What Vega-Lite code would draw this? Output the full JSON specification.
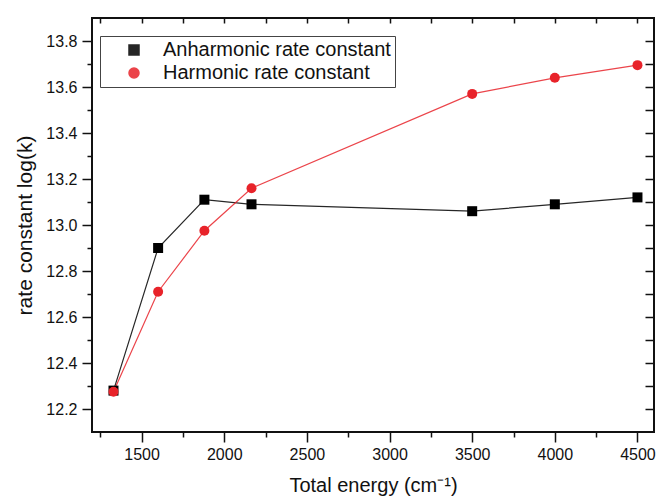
{
  "$schema": "https://vega.github.io/schema/vega-lite/v6.json",
  "width": 562,
  "height": 414,
  "autosize": "none",
  "padding": {"left": 92, "top": 18, "right": 3, "bottom": 68},
  "background": "white",
  "config": {
    "font": "Liberation Sans",
    "view": {"stroke": "#111", "strokeWidth": 2},
    "axis": {"domain": false, "grid": false, "tickColor": "#111", "tickWidth": 1.5, "labelColor": "#111", "titleColor": "#111", "titleFontWeight": "normal"}
  },
  "data": {
    "values": [
      {"energy": 1330, "logk": 12.28, "series": "Anharmonic rate constant"},
      {"energy": 1600, "logk": 12.90, "series": "Anharmonic rate constant"},
      {"energy": 1880, "logk": 13.11, "series": "Anharmonic rate constant"},
      {"energy": 2165, "logk": 13.09, "series": "Anharmonic rate constant"},
      {"energy": 3500, "logk": 13.06, "series": "Anharmonic rate constant"},
      {"energy": 4000, "logk": 13.09, "series": "Anharmonic rate constant"},
      {"energy": 4500, "logk": 13.12, "series": "Anharmonic rate constant"},
      {"energy": 1330, "logk": 12.275, "series": "Harmonic rate constant"},
      {"energy": 1600, "logk": 12.71, "series": "Harmonic rate constant"},
      {"energy": 1880, "logk": 12.975, "series": "Harmonic rate constant"},
      {"energy": 2165, "logk": 13.16, "series": "Harmonic rate constant"},
      {"energy": 3500, "logk": 13.57, "series": "Harmonic rate constant"},
      {"energy": 4000, "logk": 13.64, "series": "Harmonic rate constant"},
      {"energy": 4500, "logk": 13.695, "series": "Harmonic rate constant"}
    ]
  },
  "resolve": {"axis": {"x": "independent", "y": "independent"}},
  "layer": [
    {
      "mark": {"type": "line", "strokeWidth": 1.2, "opacity": 0.85},
      "encoding": {
        "x": {"field": "energy", "type": "quantitative", "scale": {"domain": [1200, 4600], "nice": false, "zero": false},
          "axis": {"orient": "top", "values": [1250,1500,1750,2000,2250,2500,2750,3000,3250,3500,3750,4000,4250,4500], "labels": false, "tickSize": -5, "title": null}},
        "y": {"field": "logk", "type": "quantitative", "scale": {"domain": [12.1, 13.9], "nice": false, "zero": false},
          "axis": {"orient": "right", "values": [12.2,12.3,12.4,12.5,12.6,12.7,12.8,12.9,13.0,13.1,13.2,13.3,13.4,13.5,13.6,13.7,13.8], "labels": false, "tickSize": -9, "title": null}},
        "color": {"field": "series", "type": "nominal", "scale": {"domain": ["Anharmonic rate constant", "Harmonic rate constant"], "range": ["#000000", "#e8232a"]}},
        "detail": {"field": "series"}
      }
    },
    {
      "mark": {"type": "point", "filled": true, "opacity": 1, "size": 100},
      "encoding": {
        "x": {"field": "energy", "type": "quantitative", "scale": {"domain": [1200, 4600], "nice": false, "zero": false},
          "axis": {"orient": "bottom", "values": [1250,1500,1750,2000,2250,2500,2750,3000,3250,3500,3750,4000,4250,4500], "format": "d",
            "labelExpr": "datum.value % 500 === 0 ? datum.label : ''",
            "tickSize": {"condition": {"test": "datum.value % 500 === 0", "value": 10}, "value": 5},
            "labelFontSize": 16, "labelPadding": 4, "labelFlush": false,
            "title": "Total energy (cm⁻¹)", "titleFontSize": 20, "titlePadding": 13}},
        "y": {"field": "logk", "type": "quantitative", "scale": {"domain": [12.1, 13.9], "nice": false, "zero": false},
          "axis": {"orient": "left", "values": [12.2,12.3,12.4,12.5,12.6,12.7,12.8,12.9,13.0,13.1,13.2,13.3,13.4,13.5,13.6,13.7,13.8], "format": ".1f",
            "labelExpr": "round(datum.value*10) % 2 === 0 ? datum.label : ''",
            "tickSize": {"condition": {"test": "round(datum.value*10) % 2 === 0", "value": 10}, "value": 5},
            "labelFontSize": 16, "labelPadding": 5, "labelFlush": false,
            "title": "rate constant log(k)", "titleFontSize": 21, "titlePadding": 10}},
        "color": {"field": "series", "type": "nominal", "scale": {"domain": ["Anharmonic rate constant", "Harmonic rate constant"], "range": ["#000000", "#e8232a"]},
          "legend": {"orient": "none", "legendX": 8, "legendY": 18, "title": null, "labelFontSize": 20, "labelColor": "#111",
            "strokeColor": "#444", "padding": 4, "rowPadding": 3, "symbolOffset": 20, "labelOffset": 19, "symbolSize": 100, "labelLimit": 400}},
        "shape": {"field": "series", "type": "nominal", "scale": {"domain": ["Anharmonic rate constant", "Harmonic rate constant"], "range": ["square", "circle"]}}
      }
    }
  ]
}
